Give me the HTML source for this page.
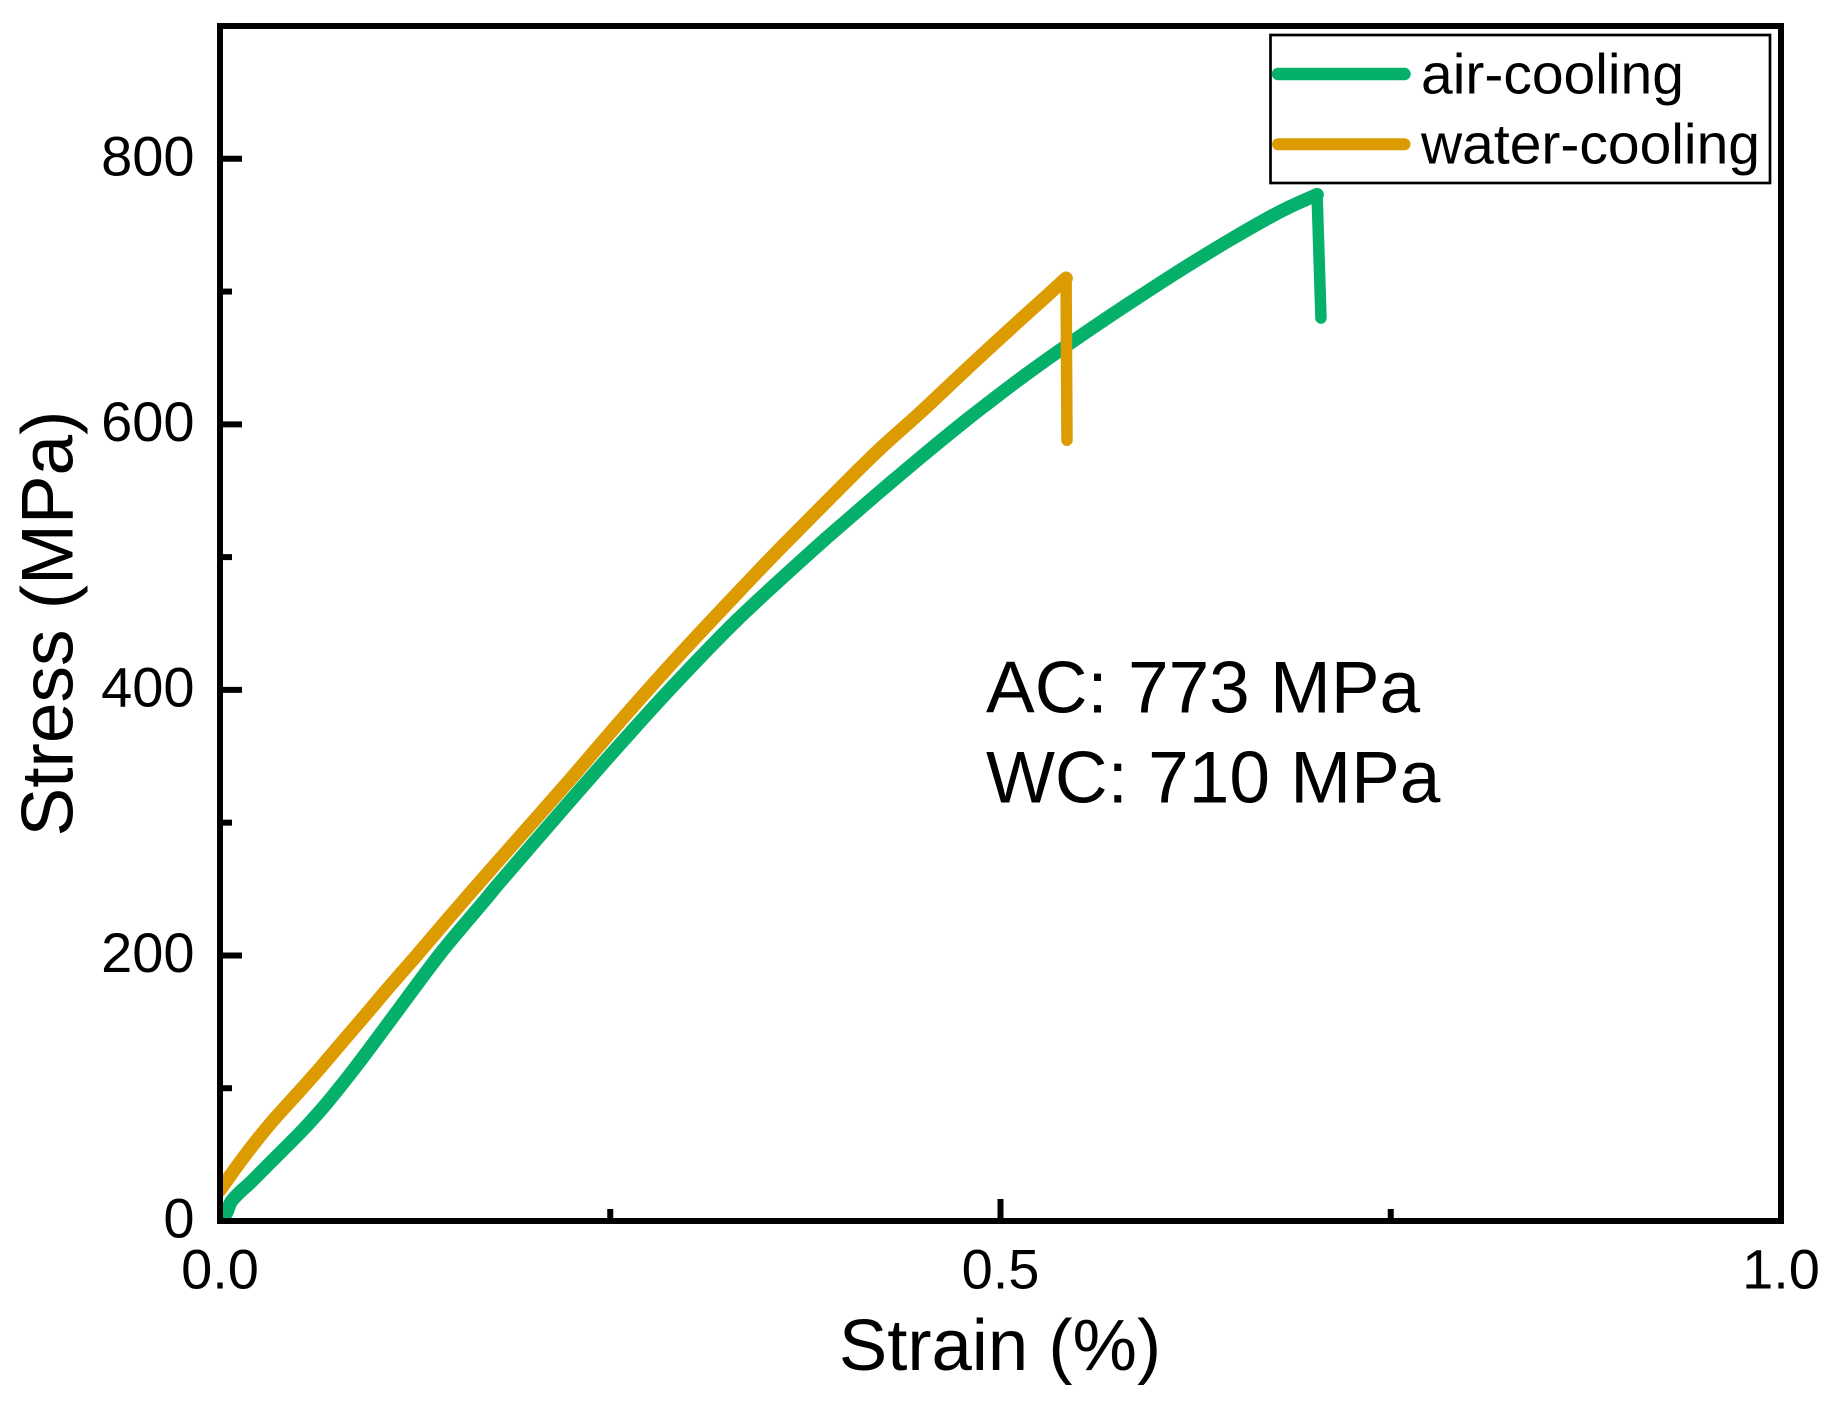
<!DOCTYPE html>
<html lang="en">
<head>
<meta charset="utf-8">
<title>Stress-strain curves</title>
<style>
html,body{margin:0;padding:0;background:#fff;width:1837px;height:1405px;overflow:hidden}
svg{display:block}
text{font-family:"Liberation Sans",Arial,sans-serif;fill:#000}
</style>
</head>
<body>
<svg id="chart" xmlns="http://www.w3.org/2000/svg" width="1837" height="1405" viewBox="0 0 1837 1405">
  <defs><clipPath id="plot-clip"><rect x="220" y="26" width="1561" height="1195"/></clipPath></defs>
  <rect x="0" y="0" width="1837" height="1405" fill="#fff"/>
  <g id="series-layer" clip-path="url(#plot-clip)"></g>
  <g id="tick-layer"></g>
  <rect x="220" y="26" width="1561" height="1195" fill="none" stroke="#000" stroke-width="6"/>
  <text x="1000" y="1370" font-size="72.5" text-anchor="middle">Strain (%)</text>
  <text x="72.5" y="623.5" font-size="73" text-anchor="middle" transform="rotate(-90 72.5 623.5)">Stress (MPa)</text>
  <text x="986" y="712.5" font-size="73">AC: 773 MPa</text>
  <text x="986" y="802.5" font-size="73">WC: 710 MPa</text>
  <g>
    <rect x="1270.5" y="35" width="499.5" height="148" fill="none" stroke="#000" stroke-width="2.7"/>
    <line x1="1278" y1="74" x2="1404.5" y2="74" stroke="#05B16A" stroke-width="12.5" stroke-linecap="round"/>
    <text x="1421" y="93.3" font-size="57">air-cooling</text>
    <line x1="1278" y1="144.3" x2="1404.5" y2="144.3" stroke="#DC9B00" stroke-width="12" stroke-linecap="round"/>
    <text x="1421" y="163.3" font-size="57">water-cooling</text>
  </g>
</svg>
<script>
const airStrain = [0.0006,0.0045,0.0070,0.0128,0.0192,0.0320,0.0448,0.0557,0.0685,0.0814,0.0942,0.1153,0.1422,0.1698,0.1794,0.2159,0.2530,0.2902,0.3318,0.3805,0.4036,0.4247,0.4536,0.4785,0.4933,0.5144,0.5400,0.5657,0.5894,0.6169,0.6451,0.6707,0.6855,0.7028,0.7053];
const airStress = [0,6.8,14.3,21.8,28.6,43.7,58.7,71.9,88.9,107.7,127.3,160.8,203.0,241.7,255.3,305.0,354.7,402.9,453.3,506.0,529.8,551.2,579.8,603.6,617.1,635.9,657.4,678.1,696.5,717.3,737.6,754.9,763.9,773,680];
const waterStrain = [0,0.0107,0.0211,0.0340,0.0493,0.0641,0.0788,0.0942,0.1089,0.1262,0.1409,0.1570,0.1794,0.2223,0.2582,0.2966,0.3363,0.3600,0.4036,0.4247,0.4497,0.4721,0.4952,0.5138,0.5298,0.5420,0.5426];
const waterStress = [23.3,40.9,57.2,75.7,95.6,115.2,135.5,156.6,177.0,200.3,220.6,242.5,272.6,329.8,378.8,429.2,478.9,507.9,559.5,583.6,610.0,634.8,660.0,680.0,696.9,710,588];
const xMajorTicks = [0,0.5,1];
const xMajorLabels = ["0.0","0.5","1.0"];
const xMinorTicks = [0.25,0.75];
const yMajorTicks = [0,200,400,600,800];
const yMajorLabels = ["0","200","400","600","800"];
const yMinorTicks = [100,300,500,700];
const xDomain = [0,1];
const yDomain = [0,900];

const NS = "http://www.w3.org/2000/svg";
const plot = {left:220, right:1781, top:26, bottom:1221};
function xScale(v){ return plot.left + (v - xDomain[0]) / (xDomain[1] - xDomain[0]) * (plot.right - plot.left); }
function yScale(v){ return plot.bottom - (v - yDomain[0]) / (yDomain[1] - yDomain[0]) * (plot.bottom - plot.top); }

const seriesLayer = document.getElementById("series-layer");
const tickLayer = document.getElementById("tick-layer");

// Smooth Catmull-Rom through the loading branch, which ends at the second-to-last point.
function loadingPath(xs, ys){
  const pts = xs.map((x,i)=>[xScale(x), yScale(ys[i])]);
  const peak = pts.length - 2;
  let d = "M" + pts[0][0].toFixed(2) + " " + pts[0][1].toFixed(2);
  for(let i = 0; i < peak; i++){
    const p0 = pts[Math.max(i-1,0)], p1 = pts[i], p2 = pts[i+1], p3 = pts[Math.min(i+2,peak)];
    const c1x = p1[0] + (p2[0]-p0[0])/6, c1y = p1[1] + (p2[1]-p0[1])/6;
    const c2x = p2[0] - (p3[0]-p1[0])/6, c2y = p2[1] - (p3[1]-p1[1])/6;
    d += " C" + c1x.toFixed(2) + " " + c1y.toFixed(2) + " " + c2x.toFixed(2) + " " + c2y.toFixed(2) + " " + p2[0].toFixed(2) + " " + p2[1].toFixed(2);
  }
  return d;
}
// The fracture drop is the straight final segment of each series.
function dropPath(xs, ys){
  const n = xs.length;
  return "M" + xScale(xs[n-2]).toFixed(2) + " " + yScale(ys[n-2]).toFixed(2) + " L" + xScale(xs[n-1]).toFixed(2) + " " + yScale(ys[n-1]).toFixed(2);
}
function makePath(d, color, width){
  const p = document.createElementNS(NS, "path");
  p.setAttribute("d", d);
  p.setAttribute("fill", "none");
  p.setAttribute("stroke", color);
  p.setAttribute("stroke-width", width);
  p.setAttribute("stroke-linecap", "round");
  p.setAttribute("stroke-linejoin", "round");
  return p;
}
const airLine = makePath(loadingPath(airStrain, airStress), "#05B16A", 13.5);


seriesLayer.appendChild(airLine);
const airDrop = makePath(dropPath(airStrain, airStress), "#05B16A", 11.5);


seriesLayer.appendChild(airDrop);
const waterLine = makePath(loadingPath(waterStrain, waterStress), "#DC9B00", 13.5);


seriesLayer.appendChild(waterLine);
const waterDrop = makePath(dropPath(waterStrain, waterStress), "#DC9B00", 11.5);


seriesLayer.appendChild(waterDrop);

function makeTick(x1,y1,x2,y2){
  const l = document.createElementNS(NS, "line");
  l.setAttribute("x1", x1); l.setAttribute("y1", y1);
  l.setAttribute("x2", x2); l.setAttribute("y2", y2);
  l.setAttribute("stroke", "#000");
  l.setAttribute("stroke-width", "6");
  return l;
}
function makeLabel(str,x,y,anchor){
  const t = document.createElementNS(NS, "text");
  t.setAttribute("x", x); t.setAttribute("y", y);
  t.setAttribute("font-size", "56");
  t.setAttribute("text-anchor", anchor);
  t.textContent = str;
  return t;
}
xMajorTicks.forEach((v,i)=>{
  const px = xScale(v);
  const tick = makeTick(px, plot.bottom, px, plot.bottom - 22);
  
  
  tickLayer.appendChild(tick);
  const label = makeLabel(xMajorLabels[i], px, 1288.5, "middle");
  
  
  tickLayer.appendChild(label);
});
xMinorTicks.forEach(v=>{
  const px = xScale(v);
  const tick = makeTick(px, plot.bottom, px, plot.bottom - 12);
  
  
  tickLayer.appendChild(tick);
});
yMajorTicks.forEach((v,i)=>{
  const py = yScale(v);
  const tick = makeTick(plot.left, py, plot.left + 22, py);
  
  
  tickLayer.appendChild(tick);
  const label = makeLabel(yMajorLabels[i], 194.5, py + 16.5, "end");
  
  
  tickLayer.appendChild(label);
});
yMinorTicks.forEach(v=>{
  const py = yScale(v);
  const tick = makeTick(plot.left, py, plot.left + 12, py);
  
  
  tickLayer.appendChild(tick);
});
</script>
</body>
</html>
